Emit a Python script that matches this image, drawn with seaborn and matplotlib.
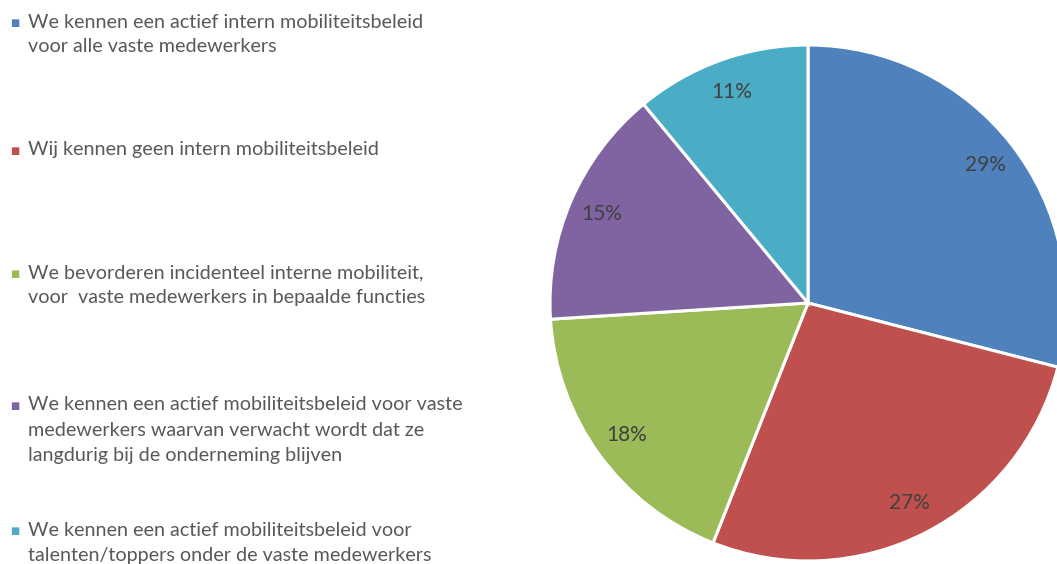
import matplotlib
matplotlib.use("Agg")
import matplotlib.pyplot as plt
import seaborn as sns

# data
labels = [
    "We kennen een actief intern mobiliteitsbeleid\nvoor alle vaste medewerkers",
    "Wij kennen geen intern mobiliteitsbeleid",
    "We bevorderen incidenteel interne mobiliteit,\nvoor  vaste medewerkers in bepaalde functies",
    "We kennen een actief mobiliteitsbeleid voor vaste\nmedewerkers waarvan verwacht wordt dat ze\nlangdurig bij de onderneming blijven",
    "We kennen een actief mobiliteitsbeleid voor\ntalenten/toppers onder de vaste medewerkers",
]
values = [29, 27, 18, 15, 11]
colors = ["#4F81BD", "#C0504D", "#9BBB59", "#8064A2", "#4BACC6"]

sns.set_theme(style="white")
plt.rcParams["font.family"] = ["Lato", "DejaVu Sans"]

W, H = 1057, 564
fig = plt.figure(figsize=(W / 100, H / 100), dpi=100)

# pie axes: center (808, 303), radius 258 px
cx, cy, r = 808, 303, 258
ax = fig.add_axes([(cx - r) / W, (H - cy - r) / H, 2 * r / W, 2 * r / H])
wedges, texts, autotexts = ax.pie(
    values,
    colors=sns.color_palette(colors),
    startangle=90,
    counterclock=False,
    autopct="%d%%",
    pctdistance=0.87,
    wedgeprops=dict(edgecolor="white", linewidth=2.2),
    textprops=dict(color="#404040", fontsize=15),
)
ax.set_xlim(-1, 1)
ax.set_ylim(-1, 1)
ax.set_aspect("equal")
ax.axis("off")

# legend on the left, marker aligned with first line
first_line_y = [22, 150, 273, 405, 530]
line_gap = 25
for lab, col, y0 in zip(labels, colors, first_line_y):
    fig.text(15 / W, 1 - (y0 + 1) / H, "■", color=col, fontsize=7,
             family="DejaVu Sans", ha="center", va="center")
    for i, line in enumerate(lab.split("\n")):
        fig.text(28 / W, 1 - (y0 + i * line_gap) / H, line, color="#595959",
                 fontsize=14.2, ha="left", va="center")

fig.savefig("out.png", dpi=100)
